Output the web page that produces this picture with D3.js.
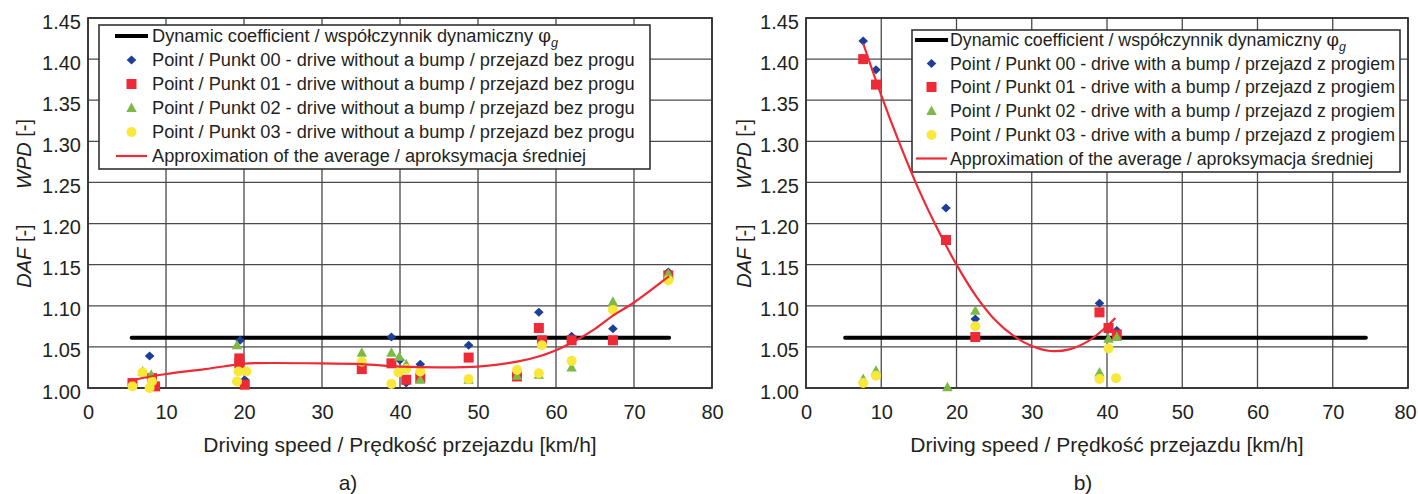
<!DOCTYPE html>
<html><head><meta charset="utf-8">
<script src="https://cdn.jsdelivr.net/npm/d3@7"></script>
<style>
body{margin:0;background:#fff;}
svg text{font-family:"Liberation Sans",Arial,sans-serif;fill:#231f20;}
</style></head><body>
<svg id="c" width="1418" height="494"></svg>
<script>
// ---------- data ----------
const xTicks = [0,10,20,30,40,50,60,70,80];
const yTicks = [1.00,1.05,1.10,1.15,1.20,1.25,1.30,1.35,1.40,1.45];
const dynamicCoef = 1.061;
const dynamicRangeA = [5.6, 74.5];
const dynamicRangeB = [5.2, 74.4];

// a) drive without a bump
const a_p00 = [[5.7,1.005],[7.9,1.039],[19.5,1.058],[20.1,1.010],[38.9,1.062],[40.0,1.034],[40.8,1.006],[42.6,1.029],[48.8,1.052],[55.0,1.016],[57.8,1.092],[62.0,1.063],[67.3,1.072],[74.4,1.141]];
const a_p01 = [[5.7,1.006],[8.2,1.012],[8.6,1.002],[19.4,1.036],[19.4,1.030],[20.1,1.004],[35.1,1.023],[38.9,1.030],[40.8,1.010],[42.6,1.012],[48.8,1.037],[55.0,1.014],[57.8,1.073],[58.2,1.058],[62.0,1.058],[67.3,1.058],[74.4,1.137]];
const a_p02 = [[7.0,1.020],[8.1,1.016],[19.1,1.052],[35.1,1.043],[38.9,1.043],[39.9,1.038],[40.8,1.029],[42.6,1.010],[48.8,1.010],[55.0,1.015],[57.8,1.016],[62.0,1.025],[67.3,1.105],[74.4,1.139]];
const a_p03 = [[5.7,1.002],[7.0,1.019],[8.2,1.008],[7.9,1.000],[19.3,1.020],[20.3,1.020],[19.1,1.008],[35.1,1.032],[38.9,1.005],[39.8,1.019],[40.8,1.023],[42.6,1.020],[48.8,1.011],[55.0,1.022],[57.8,1.018],[58.2,1.052],[62.0,1.033],[67.3,1.095],[74.4,1.131]];
const a_avg = [[5.5,1.009],[8,1.014],[10,1.017],[15,1.023],[19.5,1.029],[20.5,1.030],[30,1.030],[35,1.029],[40,1.026],[45,1.025],[50,1.026],[55,1.032],[58,1.039],[60,1.046],[62,1.055],[65,1.072],[67.3,1.088],[70,1.104],[74.5,1.136]];

// b) drive with a bump
const b_p00 = [[7.6,1.422],[9.3,1.387],[18.6,1.219],[22.5,1.084],[39.0,1.103],[40.2,1.071],[41.3,1.070]];
const b_p01 = [[7.6,1.400],[9.3,1.369],[18.6,1.180],[22.5,1.062],[39.0,1.092],[40.2,1.073],[41.3,1.065]];
const b_p02 = [[7.6,1.011],[9.3,1.021],[18.8,1.001],[22.5,1.094],[39.0,1.019],[40.2,1.060],[41.3,1.062]];
const b_p03 = [[7.6,1.006],[9.3,1.015],[22.5,1.075],[39.0,1.011],[40.2,1.048],[41.2,1.012]];
const b_avg = [[7.6,1.419],[10,1.356],[12.5,1.296],[15,1.241],[17.5,1.193],[20,1.150],[22.5,1.113],[25,1.084],[27.5,1.064],[30,1.051],[32.5,1.045],[35,1.047],[37.5,1.057],[40,1.075],[41.1,1.085]];

const legendA = ["Point / Punkt 00 - drive without a bump / przejazd bez progu","Point / Punkt 01 - drive without a bump / przejazd bez progu","Point / Punkt 02 - drive without a bump / przejazd bez progu","Point / Punkt 03 - drive without a bump / przejazd bez progu"];
const legendB = ["Point / Punkt 00 - drive with a bump / przejazd z progiem","Point / Punkt 01 - drive with a bump / przejazd z progiem","Point / Punkt 02 - drive with a bump / przejazd z progiem","Point / Punkt 03 - drive with a bump / przejazd z progiem"];
const legendDyn = "Dynamic coefficient / współczynnik dynamiczny ";
const legendAvg = "Approximation of the average / aproksymacja średniej";
const xTitle = "Driving speed / Prędkość przejazdu [km/h]";

const colors = ["#1c3f98","#ee2a36","#7dba45","#f9e83a"];
const shapes = ["diamond","square","triangle","circle"];

// ---------- drawing ----------
const svg = d3.select("#c");

function marker(g, shape, color, x, y){
  if(shape==="diamond") g.append("path").attr("d",`M${x},${y-4.5}L${x+4.8},${y}L${x},${y+4.5}L${x-4.8},${y}Z`).attr("fill",color);
  else if(shape==="square") g.append("rect").attr("x",x-5).attr("y",y-5).attr("width",10).attr("height",10).attr("fill",color);
  else if(shape==="triangle") g.append("path").attr("d",`M${x},${y-5.5}L${x+5.2},${y+4}L${x-5.2},${y+4}Z`).attr("fill",color);
  else g.append("circle").attr("cx",x).attr("cy",y).attr("r",5).attr("fill",color);
}

function fitSize(text, target, base){
  const t = svg.append("text").attr("font-size",base).text(text);
  const w = t.node().getComputedTextLength();
  t.remove();
  return base*target/w;
}

function chart(o){
  const x = d3.scaleLinear().domain([0,80]).range([o.left,o.right]);
  const y = d3.scaleLinear().domain([1.0,1.45]).range([388,18]);
  const g = svg.append("g");
  // grid
  g.append("g").selectAll("line").data(xTicks).join("line")
    .attr("x1",d=>x(d)).attr("x2",d=>x(d)).attr("y1",y(1.45)).attr("y2",y(1.0))
    .attr("stroke","#4a4a4a").attr("stroke-width",1.3);
  g.append("g").selectAll("line").data(yTicks).join("line")
    .attr("x1",x(0)).attr("x2",x(80)).attr("y1",d=>y(d)).attr("y2",d=>y(d))
    .attr("stroke","#4a4a4a").attr("stroke-width",1.3);
  g.append("rect").attr("x",x(0)).attr("y",y(1.45)).attr("width",x(80)-x(0)).attr("height",y(1.0)-y(1.45))
    .attr("fill","none").attr("stroke","#333").attr("stroke-width",1.8);
  // axes (labels only)
  const ax = g.append("g").attr("transform",`translate(0,${y(1.0)})`).call(d3.axisBottom(x).tickValues(xTicks).tickSize(0).tickPadding(17));
  const ay = g.append("g").attr("transform",`translate(${x(0)},0)`).call(d3.axisLeft(y).tickValues(yTicks).tickFormat(d3.format(".2f")).tickSize(0).tickPadding(7));
  [ax,ay].forEach(a=>{a.select(".domain").remove(); a.selectAll("text").attr("font-size",20).attr("fill","#231f20").attr("font-family","Liberation Sans, Arial, sans-serif");});
  ay.selectAll("text").attr("dy","0.5em");
  if(o.lastDx) ax.selectAll("text").filter(d=>d===80).attr("dx",o.lastDx);
  // legend box
  const L = o.legend;
  g.append("rect").attr("x",L.x0).attr("y",L.y0).attr("width",L.x1-L.x0).attr("height",L.y1-L.y0)
    .attr("fill","#fff").attr("stroke","#333").attr("stroke-width",1.6);
  // dynamic coefficient line
  g.append("line").attr("x1",x(o.dynRange[0])).attr("x2",x(o.dynRange[1])).attr("y1",y(dynamicCoef)).attr("y2",y(dynamicCoef))
    .attr("stroke","#000").attr("stroke-width",4).attr("stroke-linecap","round");
  // points
  o.series.forEach((s,i)=>{
    const sg = g.append("g");
    s.forEach(p=>marker(sg, shapes[i], colors[i], x(p[0]), y(p[1])));
  });
  // average curve
  g.append("path").datum(o.avg).attr("d",d3.line().x(d=>x(d[0])).y(d=>y(d[1])).curve(d3.curveCatmullRom.alpha(0.5)))
    .attr("fill","none").attr("stroke","#ee2a36").attr("stroke-width",2.2);
  // legend entries
  const rows = L.rows;
  const fs = fitSize(o.labels[0], L.tw, 18);
  const sx0 = L.sx0, sx1 = L.sx1, tx = L.tx;
  g.append("line").attr("x1",sx0).attr("x2",sx1).attr("y1",rows[0]).attr("y2",rows[0]).attr("stroke","#000").attr("stroke-width",4);
  const t0 = g.append("text").attr("x",tx).attr("y",rows[0]).attr("dy","0.35em").attr("font-size",fs);
  t0.append("tspan").text(legendDyn);
  t0.append("tspan").text("φ").attr("font-family","DejaVu Serif, serif");
  t0.append("tspan").text("g").attr("font-style","italic").attr("font-size",fs*0.7).attr("dy","0.35em");
  o.labels.forEach((lab,i)=>{
    marker(g, shapes[i], colors[i], (sx0+sx1)/2, rows[i+1]);
    g.append("text").attr("x",tx).attr("y",rows[i+1]).attr("dy","0.35em").attr("font-size",fs).text(lab);
  });
  g.append("line").attr("x1",sx0+1).attr("x2",sx1-1).attr("y1",rows[5]).attr("y2",rows[5]).attr("stroke","#ee2a36").attr("stroke-width",2.2);
  g.append("text").attr("x",tx).attr("y",rows[5]).attr("dy","0.35em").attr("font-size",fs).text(legendAvg);
  // axis titles
  const cx = (x(0)+x(80))/2;
  g.append("text").attr("x",cx).attr("y",452).attr("text-anchor","middle").attr("font-size",21).text(xTitle);
  g.append("text").attr("x",o.tagX).attr("y",490).attr("text-anchor","middle").attr("font-size",21).text(o.tag);
  const yt = g.append("text").attr("transform",`translate(${o.ytx},154) rotate(-90)`).attr("text-anchor","middle").attr("font-size",20);
  yt.append("tspan").attr("font-style","italic").text("WPD");
  yt.append("tspan").text(" [-]");
  const yt2 = g.append("text").attr("transform",`translate(${o.ytx},256) rotate(-90)`).attr("text-anchor","middle").attr("font-size",20);
  yt2.append("tspan").attr("font-style","italic").text("DAF");
  yt2.append("tspan").text(" [-]");
}

chart({left:88,right:712,tag:"a)",tagX:348,ytx:31,dynRange:dynamicRangeA,
  series:[a_p00,a_p01,a_p02,a_p03],avg:a_avg,labels:legendA,
  legend:{x0:99,x1:650,y0:25,y1:169,rows:[36,60,84,108,132,156],sx0:115,sx1:148,tx:152,tw:483}});
chart({left:806,right:1408,tag:"b)",tagX:1083,ytx:751,lastDx:-3,dynRange:dynamicRangeB,
  series:[b_p00,b_p01,b_p02,b_p03],avg:b_avg,labels:legendB,
  legend:{x0:912,x1:1400,y0:30,y1:172,rows:[40,63.5,87,111,135,158.5],sx0:915,sx1:948,tx:950,tw:445}});
</script></body></html>
